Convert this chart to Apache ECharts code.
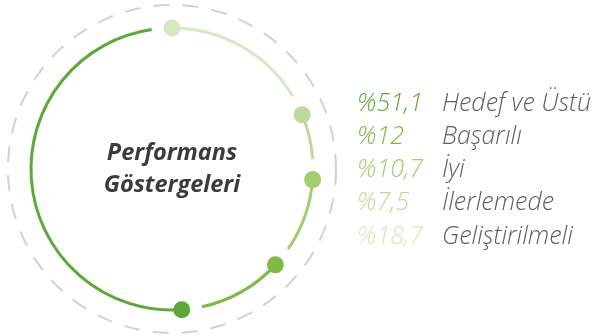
<!DOCTYPE html>
<html>
<head>
<meta charset="utf-8">
<script src="https://cdn.jsdelivr.net/npm/echarts@6/dist/echarts.min.js"></script>
<style>
  html, body { margin: 0; padding: 0; background: #ffffff; }
  #chart { width: 598px; height: 336px; }
</style>
</head>
<body>
<div id="chart"></div>
<script>
// Performance categories, listed as in the legend (best first)
const categories = ['Hedef ve Üstü', 'Başarılı', 'İyi', 'İlerlemede', 'Geliştirilmeli'];
// Share of each category, in percent
const shares = [51.1, 12, 10.7, 7.5, 18.7];
// One green per category, darkest for the best result
const colors = ['#5ea83a', '#80b945', '#a2cd70', '#bcda9c', '#d5e8c1'];
const centerTitle = 'Performans\nGöstergeleri';

const RING_R = 141;      // radius of the coloured ring (radius axis units = px)
const OUTER_R = 164;     // radius of the dashed guide circle
const GAP = 2.3;         // angle-axis gap left before the next segment's dot
const DOT_R = 8.5;

// The ring is laid out clockwise from the top, starting with the last category
const order = categories.map((_, i) => i).reverse();
const spans = {};
let acc = 0;
order.forEach(i => { spans[i] = [acc, acc + shares[i]]; acc += shares[i]; });

const fmtPct = v => '%' + String(v).replace('.', ',');

function renderSegment(color) {
  return function (params, api) {
    const start = api.value(0);
    const end = api.value(1);
    const cs = params.coordSys;
    const p0 = api.coord([RING_R, start]);
    const p1 = api.coord([RING_R, end - GAP]);
    const r = Math.hypot(p0[0] - cs.cx, p0[1] - cs.cy);
    const a0 = Math.atan2(p0[1] - cs.cy, p0[0] - cs.cx);
    let a1 = Math.atan2(p1[1] - cs.cy, p1[0] - cs.cx);
    if (a1 < a0) a1 += Math.PI * 2;
    return {
      type: 'group',
      children: [
        {
          type: 'arc',
          shape: { cx: cs.cx, cy: cs.cy, r: r, startAngle: a0, endAngle: a1, clockwise: true },
          style: { stroke: color, lineWidth: 3, fill: null }
        },
        {
          type: 'circle',
          shape: { cx: p0[0], cy: p0[1], r: DOT_R },
          style: { fill: color }
        }
      ]
    };
  };
}

const LEGEND_FONT = { fontSize: 25, fontStyle: 'italic', fontWeight: 300, fontFamily: '"Open Sans"', lineHeight: 26 };
const rich = { t: Object.assign({ color: '#5e5e5e' }, LEGEND_FONT) };
categories.forEach((c, i) => {
  rich['n' + i] = Object.assign({ color: colors[i], width: 85 }, LEGEND_FONT);
});

const chart = echarts.init(document.getElementById('chart'), null, { renderer: 'canvas' });
chart.setOption({
  animation: false,
  backgroundColor: '#ffffff',
  polar: { center: [172, 169], radius: OUTER_R },
  angleAxis: {
    type: 'value', min: 0, max: 100, startAngle: 90, clockwise: true,
    axisLine: { show: true, lineStyle: { color: '#d2d2d2', width: 2, type: [16, 13] } },
    axisTick: { show: false }, axisLabel: { show: false }, splitLine: { show: false }
  },
  radiusAxis: { type: 'value', min: 0, max: OUTER_R, show: false, splitLine: { show: false } },
  legend: {
    orient: 'vertical',
    left: 352, top: 91, padding: 0,
    itemWidth: 0, itemHeight: 26, itemGap: 7.6,
    icon: 'none',
    selectedMode: false,
    data: categories,
    formatter: name => {
      const i = categories.indexOf(name);
      return '{n' + i + '|' + fmtPct(shares[i]) + '}{t|' + name + '}';
    },
    textStyle: { rich: rich }
  },
  graphic: [{
    type: 'text',
    x: 172, y: 169,
    style: {
      text: centerTitle,
      fill: '#3b3b3b',
      font: 'italic 700 23.5px "Open Sans"',
      lineHeight: 32,
      align: 'center',
      verticalAlign: 'middle'
    }
  }],
  series: categories.map((name, i) => ({
    type: 'custom',
    name: name,
    coordinateSystem: 'polar',
    color: colors[i],
    silent: true,
    data: [spans[i]],
    renderItem: renderSegment(colors[i])
  }))
});
</script>
</body>
</html>
